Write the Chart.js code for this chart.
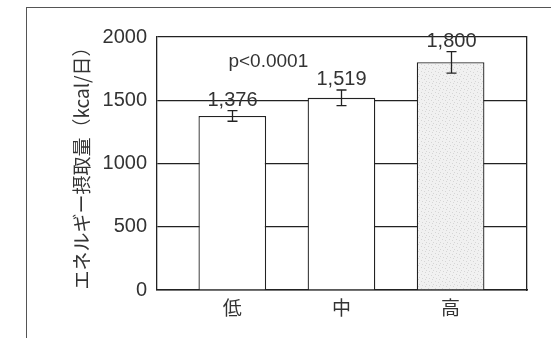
<!DOCTYPE html>
<html>
<head>
<meta charset="utf-8">
<script src="https://cdn.jsdelivr.net/npm/chart.js@4/dist/chart.umd.min.js"></script>
<style>
  html, body { margin: 0; padding: 0; background: #fff; }
  #wrap { position: relative; width: 551px; height: 338px; overflow: hidden; }
  #frame { position: absolute; left: 26px; top: 7px; width: 600px; height: 400px;
           border-left: 1.5px solid #555; border-top: 1.5px solid #555; }
  #c { position: absolute; left: 0; top: 0; }
</style>
</head>
<body>
<div id="wrap">
  <div id="frame"></div>
  <canvas id="c" width="551" height="338"></canvas>
</div>
<script>
// Energy intake by group (mean ± error), kcal/day
const categories = ['低', '中', '高'];
const intake = [1376, 1519, 1800];
const errors = [42, 62, 85];
const yTicks = [0, 500, 1000, 1500, 2000];
const axisTitle = 'エネルギー摂取量（kcal/日）';
const pText = 'p<0.0001';
const pAnchor = { x: 0.33, y: 1808 };

const INK = '#222';
const NUM_FONT = '"Liberation Sans", Arial, sans-serif';
const JP_FONT = '"Noto Sans CJK JP", sans-serif';

// light stippled fill for the high group
function stipple() {
  const p = document.createElement('canvas');
  p.width = 7; p.height = 7;
  const g = p.getContext('2d');
  g.fillStyle = '#f1f1f1';
  g.fillRect(0, 0, 7, 7);
  g.fillStyle = '#d6d6d6';
  [[1, 1], [4, 2], [2, 5], [6, 4], [5, 6]].forEach(([x, y]) => g.fillRect(x, y, 1, 1));
  return g.createPattern(p, 'repeat');
}

const errorBars = {
  id: 'errorBars',
  afterDatasetsDraw(chart) {
    const { ctx, scales: { x, y } } = chart;
    ctx.save();
    ctx.strokeStyle = INK;
    ctx.lineWidth = 1.3;
    ctx.fillStyle = '#333';
    ctx.textAlign = 'center';
    ctx.textBaseline = 'alphabetic';
    ctx.font = '20px ' + NUM_FONT;
    intake.forEach((v, i) => {
      const px = Math.round(x.getPixelForValue(i)) + 0.5;
      const top = y.getPixelForValue(v + errors[i]);
      const bot = y.getPixelForValue(v - errors[i]);
      ctx.beginPath();
      ctx.moveTo(px, top); ctx.lineTo(px, bot);
      ctx.moveTo(px - 5, top); ctx.lineTo(px + 5, top);
      ctx.moveTo(px - 5, bot); ctx.lineTo(px + 5, bot);
      ctx.stroke();
      ctx.fillText(v.toLocaleString('en-US'), px, top - 5);
    });
    ctx.font = '19px ' + NUM_FONT;
    ctx.textBaseline = 'middle';
    ctx.fillText(pText, x.getPixelForValue(pAnchor.x), y.getPixelForValue(pAnchor.y));
    ctx.restore();
  }
};

new Chart(document.getElementById('c'), {
  type: 'bar',
  data: {
    datasets: [{
      data: intake.map((v, i) => ({ x: i, y: v })),
      backgroundColor: ['#ffffff', '#ffffff', stipple()],
      borderColor: INK,
      borderWidth: 1.3,
      barPercentage: 0.62,
      categoryPercentage: 1
    }]
  },
  options: {
    responsive: false,
    animation: false,
    events: [],
    layout: { padding: { left: 0, top: 37, right: 24, bottom: 0 } },
    plugins: { legend: { display: false }, tooltip: { enabled: false } },
    scales: {
      x: {
        type: 'linear',
        offset: false,
        min: -0.69,
        max: 2.7,
        afterBuildTicks: s => { s.ticks = categories.map((c, i) => ({ value: i })); },
        afterFit: s => { s.height = 48; },
        grid: { display: false, drawTicks: false },
        border: { display: true, color: INK, width: 1.6 },
        ticks: {
          padding: 6,
          color: '#333',
          font: { family: JP_FONT, size: 19 },
          callback: v => categories[v]
        }
      },
      y: {
        min: 0,
        max: 2000,
        afterBuildTicks: s => { s.ticks = yTicks.map(v => ({ value: v })); },
        afterFit: s => { s.width = 157; },
        grid: { color: INK, lineWidth: 1.2, drawTicks: false },
        border: { display: true, color: INK, width: 1.3 },
        ticks: {
          padding: 10,
          color: '#333',
          font: { family: NUM_FONT, size: 20 },
          callback: v => String(v)
        },
        title: {
          display: true,
          text: axisTitle,
          color: '#333',
          font: { family: JP_FONT, size: 19 },
          padding: { top: 70, bottom: 0 }
        }
      },
      y2: {
        position: 'right',
        min: 0,
        max: 2000,
        afterFit: s => { s.width = 0; },
        grid: { display: false, drawTicks: false },
        border: { display: true, color: INK, width: 1.3 },
        ticks: { display: false }
      }
    }
  },
  plugins: [errorBars]
});
</script>
</body>
</html>
